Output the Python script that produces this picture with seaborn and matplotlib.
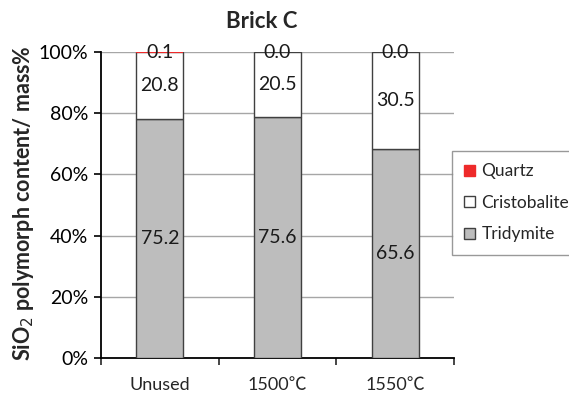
import numpy as np
import pandas as pd
import matplotlib
matplotlib.use("Agg")
import matplotlib.pyplot as plt
import seaborn as sns
from matplotlib.patches import Patch
from matplotlib.ticker import PercentFormatter, FixedLocator

sns.set_style("white")
plt.rcParams['font.family'] = ['Lato', 'Noto Sans CJK JP', 'DejaVu Sans']

categories = ["Unused", "1500\u2103", "1550\u2103"]
tridymite = [75.2, 75.6, 65.6]
cristobalite = [20.8, 20.5, 30.5]
quartz = [0.1, 0.0, 0.0]
series_names = ["Quartz", "Cristobalite", "Tridymite"]
colors = {"Quartz": "#ee2a2a", "Cristobalite": "#ffffff", "Tridymite": "#bdbdbd"}

tri = np.array(tridymite)
cri = np.array(cristobalite)
qua = np.array(quartz)
total = tri + cri + qua
tri_p = tri / total * 100
cri_p = cri / total * 100
qua_p = qua / total * 100

W, H = 569, 394
fig = plt.figure(figsize=(W / 100, H / 100), dpi=100)
ax = fig.add_axes([101 / W, (H - 358) / H, (454 - 101) / W, (358 - 52) / H])

edge = "#404040"
layers = [
    ("Tridymite", tri_p, np.zeros(3), tridymite),
    ("Cristobalite", cri_p, tri_p, cristobalite),
    ("Quartz", qua_p, tri_p + cri_p, quartz),
]
for name, h, b, raw in layers:
    df = pd.DataFrame({"cat": categories, "val": h})
    sns.barplot(data=df, x="cat", y="val", bottom=b, color=colors[name],
                width=0.4, edgecolor=edge, linewidth=1.0, ax=ax, zorder=3,
                saturation=1)
    cont = ax.containers[-1]
    if name == "Quartz":
        for p, v in zip(cont.patches, raw):
            if v > 0:
                p.set_edgecolor(colors[name])
                p.set_linewidth(1.5)
            else:
                p.set_edgecolor("none")
    ax.bar_label(cont, labels=[f"{v:.1f}" for v in raw], label_type="center",
                 fontsize=14, color="#1a1a1a", zorder=5)

ax.set_ylim(0, 100)
ax.set_xlim(-0.5, 2.5)
ax.yaxis.set_major_formatter(PercentFormatter(100, decimals=0))
ax.set_yticks([0, 20, 40, 60, 80, 100])
ax.yaxis.grid(True, color="#a6a6a6", linewidth=1, zorder=0)
ax.set_axisbelow(True)
ax.set_xlabel("")
ax.set_ylabel("")
for s in ["top", "right"]:
    ax.spines[s].set_visible(False)
for s in ["left", "bottom"]:
    ax.spines[s].set_color("black")
    ax.spines[s].set_linewidth(1.3)
ax.tick_params(axis="y", which="major", direction="out", length=5, width=1.2,
               labelsize=14, colors="black", pad=4, left=True)
ax.tick_params(axis="x", which="major", length=0, labelsize=13, pad=14)
ax.xaxis.set_minor_locator(FixedLocator([-0.5, 0.5, 1.5, 2.5]))
ax.tick_params(axis="x", which="minor", direction="out", length=5, width=1.2,
               bottom=True)

fig.text(262 / W, 1 - 22 / H, "Brick C", ha="center", va="center",
         fontsize=16, fontweight="bold")
fig.text(24 / W, 1 - 203 / H, "SiO$_2$ polymorph content/ mass%", ha="center",
         va="center", rotation=90, fontsize=15.5, fontweight="bold")

handles = [Patch(facecolor=colors[n], edgecolor=(colors[n] if n == "Quartz" else edge),
                 linewidth=1) for n in series_names]
leg = fig.legend(handles, series_names, loc="upper left",
                 bbox_to_anchor=(452 / W, 1 - 151 / H), bbox_transform=fig.transFigure,
                 fontsize=12.5, frameon=True, fancybox=False, edgecolor="#808080",
                 handlelength=0.6, handleheight=0.6, handletextpad=0.4,
                 labelspacing=0.9, borderpad=0.7, borderaxespad=0)
leg.get_frame().set_linewidth(1)

fig.savefig("out.png", dpi=100)
